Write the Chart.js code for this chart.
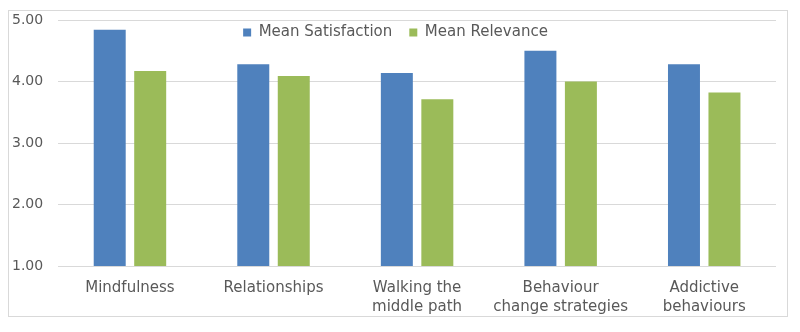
<!DOCTYPE html>
<html>
<head>
<meta charset="utf-8">
<script src="https://cdn.jsdelivr.net/npm/chart.js@4.4.1/dist/chart.umd.min.js"></script>
<style>
  html, body { margin: 0; padding: 0; background: #fff; }
  #wrap {
    position: absolute; left: 8px; top: 10px;
    width: 778px; height: 305px;
    border: 1px solid #d9d9d9;
  }
</style>
</head>
<body>
<div id="wrap"><canvas id="moduleChart"></canvas></div>
<script>
const modules = [
  'Mindfulness',
  'Relationships',
  ['Walking the', 'middle path'],
  ['Behaviour', 'change strategies'],
  ['Addictive', 'behaviours']
];
const meanSatisfaction = [4.84, 4.28, 4.14, 4.50, 4.28];
const meanRelevance = [4.17, 4.09, 3.71, 4.00, 3.82];
const yTicks = [1, 2, 3, 4, 5];

const FONT = 'DejaVu Sans';
const GREY = '#595959';

// let the legend sit over the top of the plot instead of taking its own row
const overlayLegend = {
  id: 'overlayLegend',
  beforeInit(chart) {
    const legend = chart.legend;
    const fit = legend.fit;
    legend.fit = function () {
      fit.call(this);
      this.height = 0;
    };
    // zero-height box would clip everything, so draw unclipped
    legend.draw = function () {
      const c = this.ctx;
      c.save();
      c.translate(9, -3 - this.top);
      this._draw();
      c.restore();
    };
  }
};

const ctx = document.getElementById('moduleChart').getContext('2d');
new Chart(ctx, {
  type: 'bar',
  data: {
    labels: modules,
    datasets: [
      {
        label: 'Mean Satisfaction',
        data: meanSatisfaction,
        backgroundColor: '#4f81bd',
        barPercentage: 0.79,
        categoryPercentage: 0.564
      },
      {
        label: 'Mean Relevance',
        data: meanRelevance,
        backgroundColor: '#9bbb59',
        barPercentage: 0.79,
        categoryPercentage: 0.564
      }
    ]
  },
  options: {
    responsive: true,
    maintainAspectRatio: false,
    animation: false,
    layout: { padding: { top: 0, right: 11, left: -12, bottom: -5 } },
    plugins: {
      legend: {
        position: 'top',
        labels: {
          boxWidth: 8,
          boxHeight: 8,
          padding: 17,
          color: GREY,
          font: { family: FONT, size: 15 }
        }
      },
      tooltip: { enabled: false }
    },
    scales: {
      x: {
        grid: { display: false },
        border: { display: false },
        ticks: {
          color: GREY,
          padding: 4,
          maxRotation: 0,
          autoSkip: false,
          font: { family: FONT, size: 15, lineHeight: 1.3 }
        }
      },
      y: {
        min: 1,
        max: 5,
        afterBuildTicks(axis) {
          axis.ticks = yTicks.map(v => ({ value: v }));
        },
        afterFit(axis) {
          axis.paddingTop = 9;
        },
        grid: { color: '#d9d9d9', drawTicks: false },
        border: { display: false },
        ticks: {
          color: GREY,
          padding: 15,
          font: { family: FONT, size: 14 },
          callback: v => v.toFixed(2)
        }
      }
    }
  },
  plugins: [overlayLegend]
});
</script>
</body>
</html>
